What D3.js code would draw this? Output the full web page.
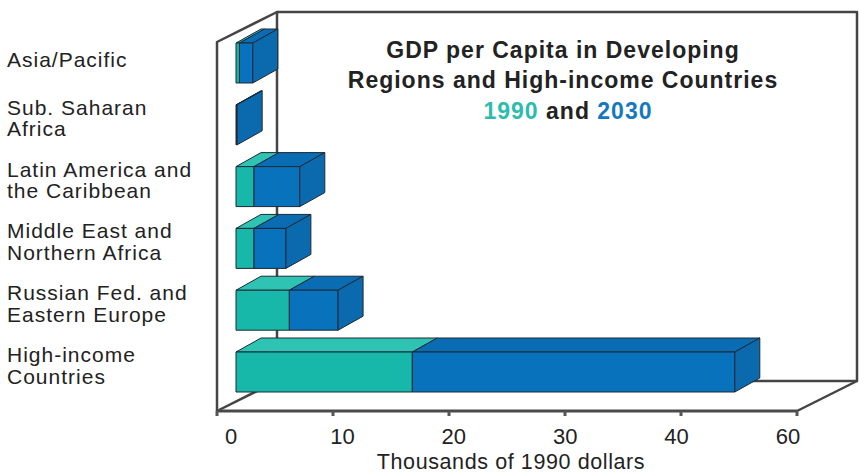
<!DOCTYPE html>
<html>
<head>
<meta charset="utf-8">
<script src="https://cdn.jsdelivr.net/npm/d3@7"></script>
<style>
  html, body { margin: 0; padding: 0; background: #ffffff; }
  svg { display: block; }
  text { font-family: "Liberation Sans", Arial, sans-serif; fill: #222222; }
</style>
</head>
<body>
<svg id="chart" width="859" height="474"></svg>
<script>
// Regions, top to bottom
const categories = [
  "Asia/Pacific",
  "Sub. Saharan Africa",
  "Latin America and the Caribbean",
  "Middle East and Northern Africa",
  "Russian Fed. and Eastern Europe",
  "High-income Countries"
];
const categoryLines = [
  ["Asia/Pacific"],
  ["Sub. Saharan", "Africa"],
  ["Latin America and", "the Caribbean"],
  ["Middle East and", "Northern Africa"],
  ["Russian Fed. and", "Eastern Europe"],
  ["High-income", "Countries"]
];
// GDP per capita, thousands of 1990 dollars
const gdp1990 = [0.3, 0.05, 1.55, 1.55, 4.6, 15.2];
const gdp2030 = [1.45, 0.1, 5.5, 4.3, 8.8, 43.0];
// Axis ticks as printed
const tickValues = [0, 10, 20, 30, 40, 50];
const tickLabels = ["0", "10", "20", "30", "40", "60"];

const titleLines = ["GDP per Capita in Developing", "Regions and High-income Countries"];

const col1990 = { front: "#17b8a9", top: "#2ec3b3", side: "#14a89a" };
const col2030 = { front: "#0872bc", top: "#0a6db4", side: "#0b69ad" };
const edge = "#1c2a36";
const frameColor = "#454545";

const svg = d3.select("#chart");

// Floor front edge scale and box depth
const x = d3.scaleLinear().domain([0, 50]).range([217, 797]);
const labelX = d3.scaleLinear().domain([0, 50]).range([231, 788]);
const floorY = 411;
const boxTop = 12;
const box = { dx: 60, dy: -30 };
// Bars stand a little way back from the floor's front edge
const barShift = 19;
const barDepth = { dx: 25, dy: -14 };

const y = d3.scaleBand()
  .domain(categories)
  .range([43, 392])
  .paddingInner(0.353)
  .paddingOuter(0);

const poly = d3.line().curve(d3.curveLinearClosed);
const seg = d3.line();

// ---- frame: back wall, left wall, floor ----
const frame = svg.append("g")
  .attr("fill", "none")
  .attr("stroke", frameColor)
  .attr("stroke-width", 2.5)
  .attr("stroke-linejoin", "round");

const backL = x(0) + box.dx, backR = x(50) + box.dx, backB = floorY + box.dy;
frame.append("path").attr("d", poly([[backL, boxTop], [backR, boxTop], [backR, backB], [backL, backB]]));
frame.append("path").attr("d", seg([[x(0), floorY], [x(0), boxTop - box.dy], [backL, boxTop]]));
frame.append("path").attr("d", seg([[x(0), floorY], [backL, backB]]));
frame.append("path").attr("d", seg([[x(50), floorY], [backR, backB]]));
frame.append("path").attr("d", seg([[x(0), floorY], [x(50), floorY]]))
  .attr("stroke-width", 3).attr("stroke", "#4a4a4a");

// tick stubs
svg.append("g").selectAll("line").data(tickValues).join("line")
  .attr("x1", d => x(d)).attr("x2", d => x(d))
  .attr("y1", floorY).attr("y2", floorY + 5)
  .attr("stroke", "#555").attr("stroke-width", 3);

// tick labels
svg.append("g").selectAll("text").data(tickValues).join("text")
  .attr("x", d => labelX(d))
  .attr("y", 444)
  .attr("text-anchor", "middle")
  .attr("font-size", 22)
  .text((d, i) => tickLabels[i]);

svg.append("text")
  .attr("x", 511).attr("y", 469)
  .attr("text-anchor", "middle")
  .attr("font-size", 21.5)
  .attr("letter-spacing", 0.6)
  .text("Thousands of 1990 dollars");

// ---- bars ----
const bx = v => x(v) + barShift;

function drawSegment(g, v0, v1, top, h, c, withSide) {
  const x0 = bx(v0), x1 = bx(v1), b = top + h;
  const { dx, dy } = barDepth;
  g.append("path")
    .attr("d", poly([[x0, top], [x1, top], [x1 + dx, top + dy], [x0 + dx, top + dy]]))
    .attr("fill", c.top).attr("stroke", edge).attr("stroke-width", 1).attr("stroke-linejoin", "round");
  g.append("path")
    .attr("d", poly([[x0, top], [x1, top], [x1, b], [x0, b]]))
    .attr("fill", c.front).attr("stroke", edge).attr("stroke-width", 1).attr("stroke-linejoin", "round");
  if (withSide) {
    g.append("path")
      .attr("d", poly([[x1, top], [x1 + dx, top + dy], [x1 + dx, b + dy], [x1, b]]))
      .attr("fill", c.side).attr("stroke", edge).attr("stroke-width", 1).attr("stroke-linejoin", "round");
  }
}

const bars = svg.append("g");
categories.forEach((cat, i) => {
  const g = bars.append("g");
  const top = y(cat), h = y.bandwidth();
  drawSegment(g, 0, gdp1990[i], top, h, col1990, false);
  drawSegment(g, gdp1990[i], gdp2030[i], top, h, col2030, true);
});

// ---- category labels ----
const labels = svg.append("g");
categories.forEach((cat, i) => {
  const lines = categoryLines[i];
  const mid = y(cat) + y.bandwidth() / 2;
  const first = lines.length === 1 ? mid + 4 : mid + 0.5 - (lines.length - 1) * 10.5;
  const t = labels.append("text")
    .attr("x", 7)
    .attr("font-size", 21)
    .attr("letter-spacing", 1);
  lines.forEach((ln, k) => {
    t.append("tspan").attr("x", 7).attr("y", first + k * 21.5).text(ln);
  });
});

// ---- title ----
const title = svg.append("g")
  .attr("font-weight", "bold")
  .attr("font-size", 23)
  .attr("letter-spacing", 1);
titleLines.forEach((ln, k) => {
  title.append("text")
    .attr("x", 563).attr("y", 58 + k * 30)
    .attr("text-anchor", "middle")
    .attr("font-weight", "bold")
    .text(ln);
});
const yearLine = title.append("text")
  .attr("x", 568).attr("y", 119)
  .attr("text-anchor", "middle")
  .attr("font-weight", "bold");
yearLine.append("tspan").style("fill", "#2bbcab").text("1990");
yearLine.append("tspan").text(" and ");
yearLine.append("tspan").style("fill", "#1478c2").text("2030");
</script>
</body>
</html>
